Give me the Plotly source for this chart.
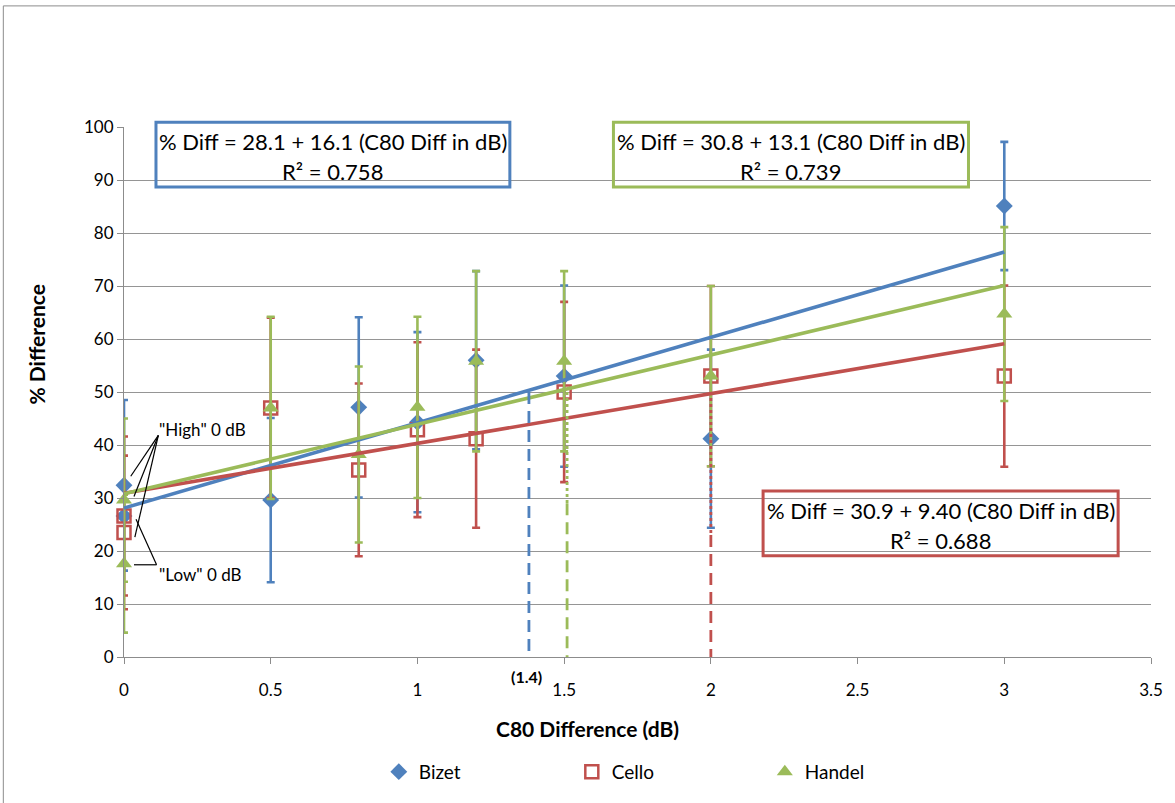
import plotly.graph_objects as go

# Measured % difference at each C80 difference (two "0 dB" runs: high and low)
c80_diff = [0, 0, 0.5, 0.8, 1.0, 1.2, 1.5, 2.0, 3.0]

bizet_pct = [32.4, 26.6, 29.6, 47.1, 44.3, 56.0, 53.0, 41.2, 85.1]
bizet_err = [16.1, 0.0, 15.5, 17.0, 17.0, 16.8, 17.1, 16.8, 12.1]

cello_pct = [26.6, 23.5, 47.0, 35.3, 42.9, 41.2, 50.0, 53.0, 53.0]
cello_err = [15.0, 14.5, 17.0, 16.3, 16.5, 16.8, 17.0, 17.0, 17.1]

handel_pct = [29.6, 17.6, 47.0, 38.2, 47.1, 55.8, 55.8, 53.0, 64.7]
handel_err = [15.4, 13.0, 17.2, 16.6, 17.1, 17.0, 17.0, 17.0, 16.4]

# Linear fits: % Diff = intercept + slope * (C80 Diff in dB)
series_names = ["Bizet", "Cello", "Handel"]
fit_intercept = [28.1, 30.9, 30.8]
fit_slope = [16.1, 9.40, 13.1]
fit_r2 = [0.758, 0.688, 0.739]
fit_x_range = [0, 3]

# C80 difference where each fit reaches the 50 % threshold (Bizet, Cello, Handel)
threshold_pct = 50
drop_x = [1.38, 2.0, 1.51]
drop_dotted_to = [None, 23, 29]
drop_label = "(1.4)"

colors = ["#4F81BD", "#C0504D", "#9BBB59"]
FONT = "Lato"
X_MAX = 3.5
Y_MAX = 100

fig = go.Figure()

marker_specs = [
    dict(symbol="diamond", size=13, color=colors[0]),
    dict(symbol="square-open", size=13, color=colors[1], line=dict(width=2.5, color=colors[1])),
    dict(symbol="triangle-up", size=14, color=colors[2]),
]
values = [bizet_pct, cello_pct, handel_pct]
errors = [bizet_err, cello_err, handel_err]

for name, ys, errs, mk, col in zip(series_names, values, errors, marker_specs, colors):
    fig.add_trace(go.Scatter(
        x=c80_diff, y=ys, mode="markers", name=name,
        marker=mk, cliponaxis=False,
        error_y=dict(type="data", array=errs, visible=True, color=col,
                     thickness=2.6, width=4),
    ))

# Regression lines
for b, m, col in zip(fit_intercept, fit_slope, colors):
    fig.add_trace(go.Scatter(
        x=fit_x_range, y=[b + m * x for x in fit_x_range], mode="lines",
        line=dict(color=col, width=3.6), showlegend=False, hoverinfo="skip",
        cliponaxis=False,
    ))

# Vertical drop lines from the 50 % crossing to the axis
DASH = "12px,7px"
DOT = "3px,3px"
for xd, dot_to, col in zip(drop_x, drop_dotted_to, colors):
    if dot_to is None:
        fig.add_trace(go.Scatter(x=[xd, xd], y=[threshold_pct, 0], mode="lines",
                                 line=dict(color=col, width=2.8, dash=DASH),
                                 showlegend=False, hoverinfo="skip"))
    else:
        fig.add_trace(go.Scatter(x=[xd, xd], y=[threshold_pct, dot_to], mode="lines",
                                 line=dict(color=col, width=2.8, dash=DOT),
                                 showlegend=False, hoverinfo="skip"))
        fig.add_trace(go.Scatter(x=[xd, xd], y=[dot_to, 0], mode="lines",
                                 line=dict(color=col, width=2.8, dash=DASH),
                                 showlegend=False, hoverinfo="skip"))

# Equation boxes (Bizet, Cello, Handel), in axis units
box_pos = [
    dict(x0=0.109, x1=1.315, y0=88.7, y1=100.9),
    dict(x0=2.178, x1=3.388, y0=19.1, y1=31.3),
    dict(x0=1.668, x1=2.878, y0=88.7, y1=100.9),
]
text_lines_y = [(97.2, 91.6), (27.55, 21.9), (97.2, 91.6)]
shapes = []
annotations = []
for b, m, r2, col, bp, ty in zip(fit_intercept, fit_slope, fit_r2, colors, box_pos, text_lines_y):
    # paper refs so the frame is not clipped at the top of the plot area
    shapes.append(dict(type="rect", xref="paper", yref="paper",
                       x0=bp["x0"] / X_MAX, x1=bp["x1"] / X_MAX,
                       y0=bp["y0"] / Y_MAX, y1=bp["y1"] / Y_MAX,
                       line=dict(color=col, width=3), fillcolor="rgba(0,0,0,0)"))
    cx = (bp["x0"] + bp["x1"]) / 2
    slope_txt = f"{m:.2f}" if m < 10 else f"{m:.1f}"
    annotations.append(dict(x=cx, y=ty[0], xref="x", yref="y", showarrow=False,
                            text=f"% Diff = {b:.1f} + {slope_txt} (C80 Diff in dB)",
                            font=dict(family=FONT, size=22, color="black")))
    annotations.append(dict(x=cx, y=ty[1], xref="x", yref="y", showarrow=False,
                            text=f"R² = {r2:.3f}",
                            font=dict(family=FONT, size=22, color="black")))

# Leader lines for the two 0 dB conditions
high_start = (0.117, 41.8)
high_ends = [(0.023, 34.1), (0.034, 30.3), (0.037, 22.6)]
low_start = (0.111, 17.4)
low_ends = [(0.041, 26.0), (0.034, 17.4)]
for ex, ey in high_ends:
    shapes.append(dict(type="line", xref="x", yref="y", x0=high_start[0], y0=high_start[1],
                       x1=ex, y1=ey, line=dict(color="black", width=1.2)))
for ex, ey in low_ends:
    shapes.append(dict(type="line", xref="x", yref="y", x0=low_start[0], y0=low_start[1],
                       x1=ex, y1=ey, line=dict(color="black", width=1.2)))
annotations.append(dict(x=0.113, y=42.9, xref="x", yref="y", showarrow=False, xanchor="left",
                        yanchor="middle", text='"High" 0 dB',
                        font=dict(family=FONT, size=17, color="black")))
annotations.append(dict(x=0.113, y=15.6, xref="x", yref="y", showarrow=False, xanchor="left",
                        yanchor="middle", text='"Low" 0 dB',
                        font=dict(family=FONT, size=17, color="black")))

annotations.append(dict(x=1.373, y=-0.036, xref="x", yref="paper", showarrow=False,
                        xanchor="center", yanchor="middle",
                        text=f"<b>{drop_label}</b>", font=dict(family=FONT, size=16, color="black")))

# Axis titles
annotations.append(dict(x=0.4515, y=-0.1356, xref="paper", yref="paper", showarrow=False,
                        xanchor="center", yanchor="middle",
                        text="<b>C80 Difference (dB)</b>", font=dict(family=FONT, size=21, color="black")))
annotations.append(dict(x=-0.085, y=0.589, xref="paper", yref="paper", showarrow=False,
                        xanchor="center", yanchor="middle",
                        textangle=-90, text="<b>% Difference</b>",
                        font=dict(family=FONT, size=21, color="black")))

# Chart-area frame
shapes.append(dict(type="rect", xref="paper", yref="paper", x0=-0.1175, x1=1.03, y0=-0.3,
                   y1=1.2285, line=dict(color="#8C8C8C", width=1), fillcolor="rgba(0,0,0,0)",
                   layer="below"))

fig.update_layout(
    width=1175, height=803,
    margin=dict(l=124, r=21, t=127, b=145),
    paper_bgcolor="white", plot_bgcolor="white",
    font=dict(family=FONT, size=17, color="black"),
    shapes=shapes, annotations=annotations,
    showlegend=True,
    legend=dict(orientation="h", x=0.53, xanchor="center", y=-0.2166, yanchor="middle",
                font=dict(family=FONT, size=19, color="black"),
                entrywidth=148, itemwidth=30),
    xaxis=dict(range=[0, X_MAX], tickmode="linear", tick0=0, dtick=0.5,
               showgrid=False, zeroline=False, showline=True, linecolor="#8C8C8C", linewidth=1,
               ticks="outside", ticklen=6, tickcolor="#8C8C8C", ticklabelstandoff=12,
               tickfont=dict(family=FONT, size=17, color="black")),
    yaxis=dict(range=[0, Y_MAX], tickmode="linear", tick0=0, dtick=10,
               showgrid=True, gridcolor="#959595", gridwidth=1.2, zeroline=False,
               showline=True, linecolor="#8C8C8C", linewidth=1,
               ticks="outside", ticklen=6, tickcolor="#8C8C8C",
               tickfont=dict(family=FONT, size=17, color="black")),
)

fig.write_html("out.html")
